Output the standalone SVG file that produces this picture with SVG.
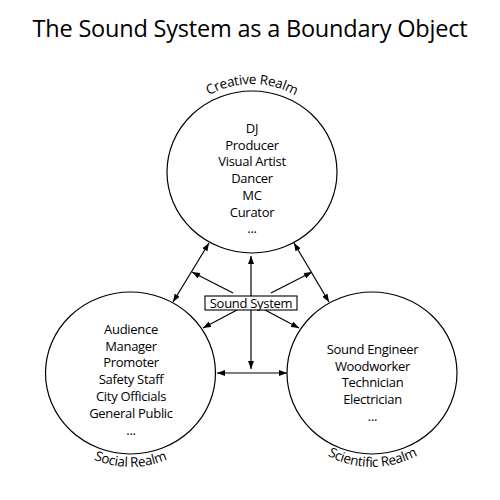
<svg xmlns="http://www.w3.org/2000/svg" width="500" height="500" viewBox="0 0 500 500">
<defs>
<marker id="ah" viewBox="0 0 8 6" refX="8" refY="3" markerWidth="8" markerHeight="6" markerUnits="userSpaceOnUse" orient="auto-start-reverse">
<path d="M0,0 L8,3 L0,6 z" fill="#000"/>
</marker>
<path id="arcTop" d="M 164,172 A 88 88 0 0 1 340,172"/>
<path id="arcLeft" d="M 36.5,373 A 94 94 0 0 0 224.5,373"/>
<path id="arcRight" d="M 278.5,373 A 94 94 0 0 0 466.5,373"/>
</defs>
<style>
text { font-family: "Open Sans", "Liberation Sans", sans-serif; fill: #000; }
.title { font-size: 23.5px; letter-spacing: -0.2px; }
.item { font-size: 13px; letter-spacing: -0.3px; text-anchor: middle; }
.realm { font-size: 13.5px; letter-spacing: -0.3px; text-anchor: middle; }
.circ { fill: #fff; stroke: #000; stroke-width: 1.2; }
.conn line { stroke: #000; stroke-width: 1.2; marker-end: url(#ah); }
.conn line.both { marker-start: url(#ah); }
</style>
<rect width="500" height="500" fill="#fff"/>
<text class="title" x="250" y="37" text-anchor="middle">The Sound System as a Boundary Object</text>

<g id="creative">
<ellipse class="circ" cx="252" cy="172" rx="85" ry="81"/>
<text class="realm"><textPath href="#arcTop" startOffset="50%">Creative Realm</textPath></text>
<text class="item" x="252" y="133">DJ</text>
<text class="item" x="252" y="149.7">Producer</text>
<text class="item" x="252" y="166.4">Visual Artist</text>
<text class="item" x="252" y="183.1">Dancer</text>
<text class="item" x="252" y="199.8">MC</text>
<text class="item" x="252" y="216.5">Curator</text>
<text class="item" x="252" y="233">...</text>
</g>

<g id="social">
<ellipse class="circ" cx="130.5" cy="373" rx="85" ry="81"/>
<text class="realm"><textPath href="#arcLeft" startOffset="50%">Social Realm</textPath></text>
<text class="item" x="131" y="334">Audience</text>
<text class="item" x="131" y="350.7">Manager</text>
<text class="item" x="131" y="367.4">Promoter</text>
<text class="item" x="131" y="384.1">Safety Staff</text>
<text class="item" x="131" y="400.8">City Officials</text>
<text class="item" x="131" y="417.5">General Public</text>
<text class="item" x="131" y="434.5">...</text>
</g>

<g id="scientific">
<ellipse class="circ" cx="372" cy="373" rx="85" ry="81"/>
<text class="realm"><textPath href="#arcRight" startOffset="50%">Scientific Realm</textPath></text>
<text class="item" x="372.5" y="354">Sound Engineer</text>
<text class="item" x="372.5" y="370.7">Woodworker</text>
<text class="item" x="372.5" y="387.4">Technician</text>
<text class="item" x="372.5" y="404.1">Electrician</text>
<text class="item" x="372.5" y="421">...</text>
</g>

<g id="connectors" class="conn">
<line class="both" x1="251" y1="256" x2="251" y2="369"/>
<line class="both" x1="217" y1="373" x2="287" y2="373"/>
<line class="both" x1="209" y1="243" x2="173" y2="302"/>
<line class="both" x1="294" y1="243" x2="329" y2="302"/>
<line x1="233" y1="293" x2="192" y2="272"/>
<line x1="271" y1="293" x2="312" y2="272"/>
<line x1="237" y1="310" x2="203" y2="328"/>
<line x1="265" y1="310" x2="299" y2="328"/>
</g>

<g id="soundsystem">
<rect x="205" y="296" width="92" height="14" fill="#fff" stroke="#000" stroke-width="1.1"/>
<text class="item" x="251" y="307.5">Sound System</text>
</g>
</svg>
